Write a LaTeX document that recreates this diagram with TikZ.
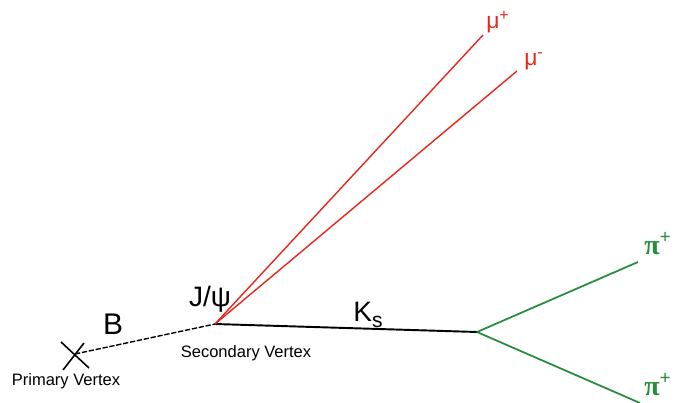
\documentclass[tikz,border=0pt]{standalone}
\usepackage{fontspec}
\setmainfont{Liberation Sans}
\newfontfamily\greekserif{Liberation Serif}
\usepackage{xcolor}
\definecolor{muonred}{RGB}{232,38,28}
\definecolor{piongreen}{RGB}{38,140,62}
\usetikzlibrary{positioning}

\begin{document}
\begin{tikzpicture}[x=0.02cm, y=-0.02cm,
    track/.style={line width=0.8pt},
    lbl/.style={inner sep=1pt}]
    \useasboundingbox (0,0) rectangle (674,403);

    % vertices
    \coordinate (pv) at (75,354);
    \coordinate (sv) at (215,324);
    \coordinate (kv) at (477,332);
    \coordinate (mup) at (483,35);
    \coordinate (mum) at (517,71);
    \coordinate (pip) at (638,262);
    \coordinate (pim) at (640,403);

    % primary vertex cross
    \draw[line width=0.9pt] (61,342) -- (89,368) (63,370) -- (84,343);

    \draw[track, dashed, dash pattern=on 3pt off 1pt] (pv) -- (sv);
    \draw[line width=1.1pt] (sv) -- (kv);
    \draw[track, muonred] (sv) -- (mup);
    \draw[track, muonred] (sv) -- (mum);
    \draw[track, piongreen, line width=1pt] (kv) -- (pip);
    \draw[track, piongreen, line width=1pt] (kv) -- (pim);

    % labels
    \node[lbl, font=\fontsize{17}{17}\selectfont] (b) at (113,324) {B};
    \node[lbl, font=\fontsize{16}{16}\selectfont] (jpsi) at (210,299) {J/ψ};
    \node[lbl, font=\fontsize{16}{16}\selectfont] (ks) at (368,315) {K\raisebox{-0.45ex}{\fontsize{12}{12}\selectfont s}};
    \node[lbl, font=\fontsize{9.4}{9.4}\selectfont] (svlbl) at (246,353) {Secondary Vertex};
    \node[lbl, font=\fontsize{9.4}{9.4}\selectfont] (pvlbl) at (66,381) {Primary Vertex};
    \node[lbl, muonred, font=\fontsize{13}{13}\selectfont] (mupl) at (498,22) {μ\textsuperscript{+}};
    \node[lbl, muonred, font=\fontsize{13}{13}\selectfont] (muml) at (534,61) {μ\textsuperscript{-}};
    \node[lbl, piongreen, font=\greekserif\bfseries\fontsize{16}{16}\selectfont] (pipl) at (658,244) {π\textsuperscript{+}};
    \node[lbl, piongreen, font=\greekserif\bfseries\fontsize{16}{16}\selectfont] (piml) at (658,385) {π\textsuperscript{+}};
\end{tikzpicture}
\end{document}
